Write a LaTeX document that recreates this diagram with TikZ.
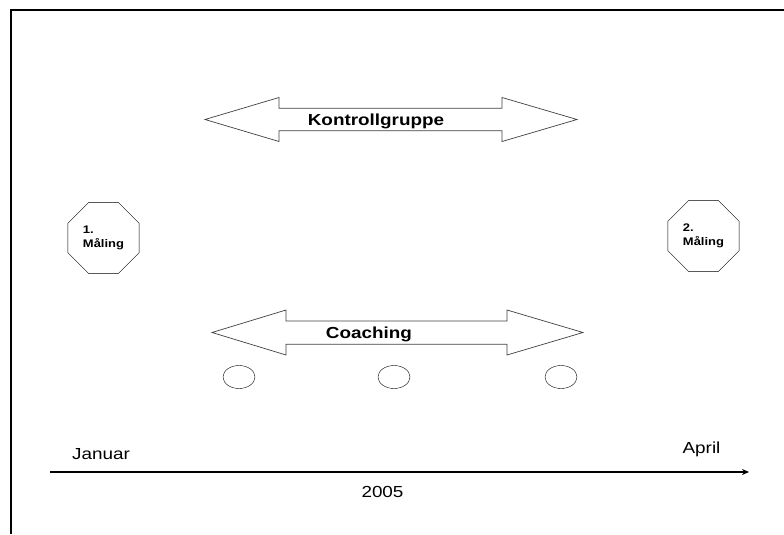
\documentclass[tikz,border=0pt]{standalone}
\usepackage{fontspec}
\setmainfont{Liberation Sans}[FakeStretch=1.18]
\usetikzlibrary{shapes.geometric, arrows.meta}

\tikzset{
  blockarrow/.style={draw=black!75, line width=0.7pt, fill=white, line join=miter},
  octagon/.style={draw, regular polygon, regular polygon sides=8, minimum size=77pt, inner sep=0pt, align=left,
    font=\bfseries\fontsize{11}{14}\selectfont},
  coachpoint/.style={draw, ellipse, minimum width=32pt, minimum height=23pt, inner sep=0pt},
  lbl/.style={anchor=base, inner sep=0pt, font=\fontsize{16}{19}\selectfont},
  arrowlbl/.style={lbl, font=\bfseries\fontsize{16}{19}\selectfont}
}

\begin{document}
\begin{tikzpicture}[x=1pt, y=-1pt]
  \useasboundingbox (0,0) rectangle (784,535);
  \draw[line width=2pt] (11,534) -- (11,10.5) -- (784,10.5);

  \draw[blockarrow] (205,119.5) -- (279,97.5) -- (279,108.3) -- (502,108.3) -- (502,97.5) -- (577,119.5)
    -- (502,141.5) -- (502,130.7) -- (279,130.7) -- (279,141.5) -- cycle;
  \node[arrowlbl] (kontroll) at (376,125) {Kontrollgruppe};

  \draw[blockarrow] (212,332.5) -- (286,310) -- (286,321) -- (507,321) -- (507,310) -- (583,332.5)
    -- (507,355) -- (507,344.3) -- (286,344.3) -- (286,355) -- cycle;
  \node[arrowlbl] (coaching) at (369,338) {Coaching};

  \node[octagon] (m1) at (103.5,238) {1.\\Måling};
  \node[octagon] (m2) at (703.5,236) {2.\\Måling};

  \node[coachpoint] (c1) at (239,377) {};
  \node[coachpoint] (c2) at (394,377) {};
  \node[coachpoint] (c3) at (561,377) {};

  \coordinate (start) at (50,472);
  \coordinate (end) at (749,472);
  \draw[line width=1.3pt, -{Stealth[length=7pt, width=6pt]}] (start) -- (end);

  \node[lbl] (jan) at (101,459) {Januar};
  \node[lbl] (apr) at (701.5,453) {April};
  \node[lbl] (year) at (382.5,497) {2005};
\end{tikzpicture}
\end{document}
